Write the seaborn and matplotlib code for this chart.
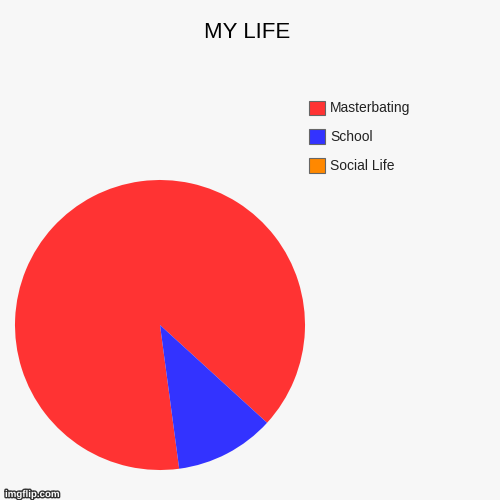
import matplotlib
matplotlib.use("Agg")
import matplotlib.pyplot as plt
import matplotlib.patheffects as pe
import seaborn as sns

# Data
categories = ["Masterbating", "School", "Social Life"]
values = [8, 1, 0]
colors = ["#ff3333", "#3333ff", "#ff8800"]
title = "MY LIFE"

sns.set_theme(style="white")
plt.rcParams["font.family"] = ["Liberation Sans", "DejaVu Sans"]
bg = "#f7f7f7"

fig = plt.figure(figsize=(5, 5), dpi=100, facecolor=bg)
W = H = 500.0

# pie axes: center (160,325) px, radius 145 px
ax = fig.add_axes([15 / W, 1 - 470 / H, 290 / W, 290 / H])
ax.set_facecolor(bg)
wedges, _ = ax.pie(values, colors=colors, startangle=-82.4, counterclock=False,
                   radius=1.0, wedgeprops=dict(linewidth=0, antialiased=True))
ax.set_xlim(-1, 1)
ax.set_ylim(-1, 1)
ax.set_aspect("equal")
ax.axis("off")

# legend
handles = [plt.Rectangle((0, 0), 1, 1, facecolor=c, edgecolor="#666666", linewidth=0.8)
           for c in colors]
leg = fig.legend(handles, categories, loc="upper left",
                 bbox_to_anchor=(308.5 / W, 1 - 100.5 / H),
                 frameon=False, fontsize=10, borderpad=0, borderaxespad=0,
                 handlelength=1.2, handleheight=1.2, handletextpad=0.35,
                 labelspacing=1.02)
for t in leg.get_texts():
    t.set_color("#222222")

fig.text(0.494, 1 - 38.3 / H, title, ha="center", va="baseline",
         fontsize=16, color="#000000")

fig.text(5 / W, 1 - 497 / H, "imgflip.com", ha="left", va="baseline",
         fontsize=7, color="white", fontweight="bold",
         path_effects=[pe.withStroke(linewidth=2, foreground="#333333")])

fig.savefig("out.png", dpi=100, facecolor=bg)
